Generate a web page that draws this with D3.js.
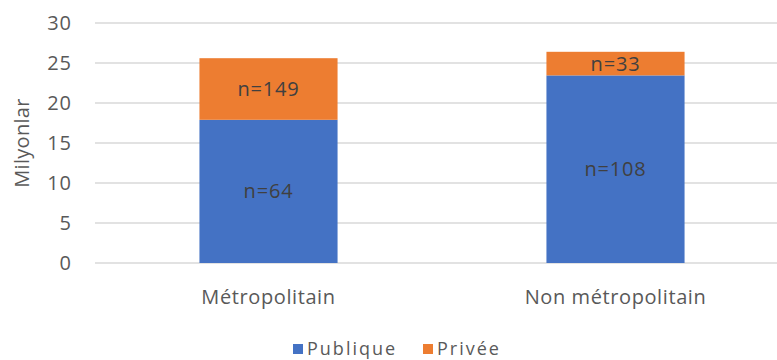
<!DOCTYPE html>
<html>
<head>
<meta charset="utf-8">
<script src="https://cdn.jsdelivr.net/npm/d3@7"></script>
<style>
  body { margin: 0; background: #fff; }
  svg { font-family: "Open Sans", "Liberation Sans", sans-serif; }
</style>
</head>
<body>
<div id="chart"></div>
<script>
var categories = ['Métropolitain', 'Non métropolitain'];
var publique = [17.9, 23.45];
var privee = [7.7, 2.95];
var publiqueLabels = ['n=64', 'n=108'];
var priveeLabels = ['n=149', 'n=33'];
var seriesNames = ['Publique', 'Privée'];
var yTicks = [0, 5, 10, 15, 20, 25, 30];

var width = 777,
    height = 360,
    colors = ['#4472C4', '#ED7D31'];

var svg = d3.select('#chart').append('svg')
    .attr('width', width)
    .attr('height', height);

var x = d3.scaleBand()
    .domain(categories)
    .range([95, 789])
    .paddingInner(0.602)
    .paddingOuter(0.301);

var y = d3.scaleLinear()
    .domain([0, 30])
    .range([263, 23]);

// gridlines
svg.append('g')
  .selectAll('line').data(yTicks)
  .enter().append('line')
    .attr('x1', 95)
    .attr('x2', width)
    .attr('y1', function(d) { return y(d); })
    .attr('y2', function(d) { return y(d); })
    .style('stroke', '#d9d9d9')
    .style('stroke-width', 1.5);

// y axis labels
var yAxis = d3.axisLeft(y).tickValues(yTicks).tickSize(0).tickPadding(0);
var ya = svg.append('g').attr('transform', 'translate(72,0)').call(yAxis);
ya.select('.domain').remove();
ya.selectAll('text')
    .style('font-size', '20px')
    .style('letter-spacing', '1px')
    .style('fill', '#595959')
    .style('font-family', '"Open Sans", sans-serif');

svg.append('text')
    .attr('transform', 'translate(29,' + y(15) + ') rotate(-90)')
    .attr('text-anchor', 'middle')
    .style('font-size', '20px')
    .style('letter-spacing', '0.3px')
    .style('fill', '#595959')
    .text('Milyonlar');

var stackData = categories.map(function(c, i) {
  return { cat: c, Publique: publique[i], 'Privée': privee[i], labels: [publiqueLabels[i], priveeLabels[i]] };
});
var stacked = d3.stack().keys(seriesNames)(stackData);

var layers = svg.selectAll('g.layer').data(stacked)
  .enter().append('g')
    .attr('class', 'layer')
    .style('fill', function(d, i) { return colors[i]; });

layers.selectAll('rect').data(function(d) { return d; })
  .enter().append('rect')
    .attr('x', function(d) { return x(d.data.cat); })
    .attr('width', x.bandwidth())
    .attr('y', function(d) { return y(d[1]); })
    .attr('height', function(d) { return y(d[0]) - y(d[1]); });

stacked.forEach(function(layer, li) {
  svg.append('g').selectAll('text').data(layer)
    .enter().append('text')
      .attr('x', function(d) { return x(d.data.cat) + x.bandwidth() / 2; })
      .attr('y', function(d) { return (y(d[0]) + y(d[1])) / 2; })
      .attr('dy', '0.35em')
      .attr('text-anchor', 'middle')
      .style('font-size', '20px')
      .style('letter-spacing', '0.8px')
      .style('fill', '#404040')
      .text(function(d) { return d.data.labels[li]; });
});

// x axis labels
var xa = svg.append('g').attr('transform', 'translate(0,304)')
    .call(d3.axisBottom(x).tickSize(0).tickPadding(0));
xa.select('.domain').remove();
xa.selectAll('text')
    .attr('y', 0)
    .attr('dy', 0)
    .style('font-size', '20px')
    .style('letter-spacing', '0.6px')
    .style('fill', '#595959')
    .style('font-family', '"Open Sans", sans-serif');

// legend
var legendX = [293, 423];
var legend = svg.selectAll('g.legend').data(seriesNames)
  .enter().append('g')
    .attr('class', 'legend')
    .attr('transform', function(d, i) { return 'translate(' + legendX[i] + ',344)'; });
legend.append('rect')
    .attr('width', 10)
    .attr('height', 10)
    .style('fill', function(d, i) { return colors[i]; });
legend.append('text')
    .attr('x', 14)
    .attr('y', 11)
    .style('font-size', '18px')
    .style('letter-spacing', '2px')
    .style('fill', '#595959')
    .text(function(d) { return d; });
</script>
</body>
</html>
